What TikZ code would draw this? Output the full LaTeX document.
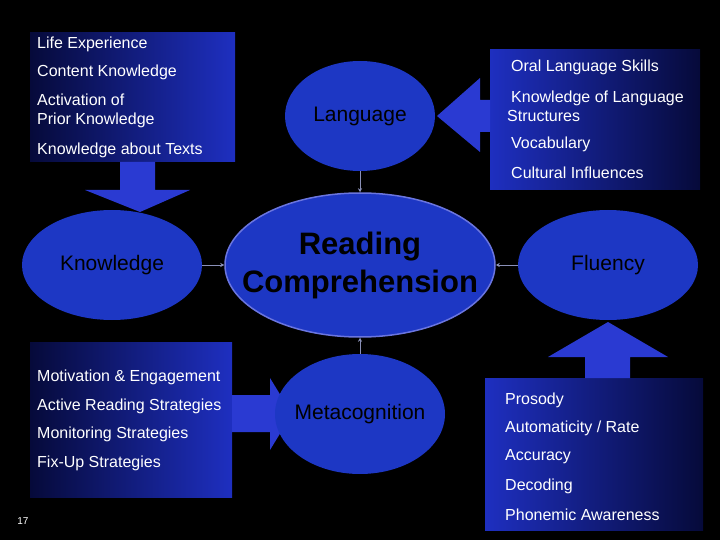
\documentclass[tikz,border=0pt]{standalone}
\usepackage{fontspec}
\setmainfont{Liberation Sans}
\begin{document}
\begin{tikzpicture}[x=1pt,y=-1pt,
  ell/.style={ellipse,fill=ellblue,text=black,align=center,inner sep=0pt},
  txt/.style={anchor=west,text=white,font=\fontsize{16}{19}\selectfont,align=left,inner sep=0},
  conn/.style={draw=connc,line width=0.8pt,-{Stealth[length=4pt,width=4pt]}},
  bigarrow/.style={fill=arrblue}]
\usetikzlibrary{shapes.geometric,arrows.meta}
\definecolor{ellblue}{HTML}{1D37C4}
\definecolor{arrblue}{HTML}{2A3AD2}
\definecolor{boxdark}{HTML}{060A3A}
\definecolor{boxblue}{HTML}{1E2FC0}
\definecolor{connc}{HTML}{8A90B8}
\fill[black] (0,0) rectangle (720,540);
\useasboundingbox (0,0) rectangle (720,540);
% boxes
\shade[left color=boxdark,right color=boxblue] (30,33) rectangle (235,162);
\shade[left color=boxblue,right color=boxdark] (490,50) rectangle (700,190);
\shade[left color=boxdark,right color=boxblue] (30,342) rectangle (232,497);
\shade[left color=boxblue,right color=boxdark] (485,378) rectangle (703,530);
% big arrows
\fill[bigarrow] (120,162) -- (155,162) -- (155,190) -- (190,190) -- (140,212) -- (85,190) -- (120,190) -- cycle;
\fill[bigarrow] (490,100) -- (480,100) -- (480,78) -- (437,116) -- (480,152) -- (480,132) -- (490,132) -- cycle;
\fill[bigarrow] (232,395) -- (270,395) -- (270,378) -- (292,414) -- (270,450) -- (270,432) -- (232,432) -- cycle;
\fill[bigarrow] (585,378) -- (585,357) -- (548,357) -- (608,322) -- (668,357) -- (630,357) -- (630,378) -- cycle;
% ellipses
\node[ell,minimum width=180,minimum height=110,font=\fontsize{21}{24}\selectfont] (know) at (112,265) {Knowledge};
\node[ell,minimum width=150,minimum height=110,font=\fontsize{21}{24}\selectfont] (lang) at (360,116) {Language};
\node[ell,draw=arrblue!70!white,line width=1.5pt,minimum width=270,minimum height=144,inner xsep=-45pt,inner ysep=-10pt,font=\bfseries\fontsize{31}{38}\selectfont] (rc) at (360,265) {Reading\\Comprehension};
\node[ell,minimum width=180,minimum height=110,font=\fontsize{21}{24}\selectfont] (flu) at (608,265) {Fluency};
\node[ell,minimum width=170,minimum height=120,inner xsep=-15pt,font=\fontsize{21}{24}\selectfont] (meta) at (360,414) {Metacognition};
% connectors
\draw[conn] (lang.south) -- (rc.north);
\draw[conn] (know.east) -- (rc.west);
\draw[conn] (flu.west) -- (rc.east);
\draw[conn] (meta.north) -- (rc.south);
% texts
\node[txt] (t1) at (37,44) {Life Experience};
\node[txt] (t2) at (37,72) {Content Knowledge};
\node[txt] (t3) at (37,111) {Activation of\\Prior Knowledge};
\node[txt] (t4) at (37,150) {Knowledge about Texts};
\node[txt] (r1) at (511,67) {Oral Language Skills};
\node[txt] (r2) at (507,106) {\hspace{4pt}Knowledge of Language\\Structures};
\node[txt] (r3) at (511,144) {Vocabulary};
\node[txt] (r4) at (511,173) {Cultural Influences};
\node[txt] (b1) at (37,377) {Motivation \& Engagement};
\node[txt] (b2) at (37,406) {Active Reading Strategies};
\node[txt] (b3) at (37,434) {Monitoring Strategies};
\node[txt] (b4) at (37,463) {Fix-Up Strategies};
\node[txt] (f1) at (505,400) {Prosody};
\node[txt] (f2) at (505,428) {Automaticity / Rate};
\node[txt] (f3) at (505,457) {Accuracy};
\node[txt] (f4) at (505,486) {Decoding};
\node[txt] (f5) at (505,515) {Phonemic Awareness};
\node[text=white,font=\rmfamily\fontsize{10}{11}\selectfont] (pg) at (23,521) {17};
\end{tikzpicture}
\end{document}
